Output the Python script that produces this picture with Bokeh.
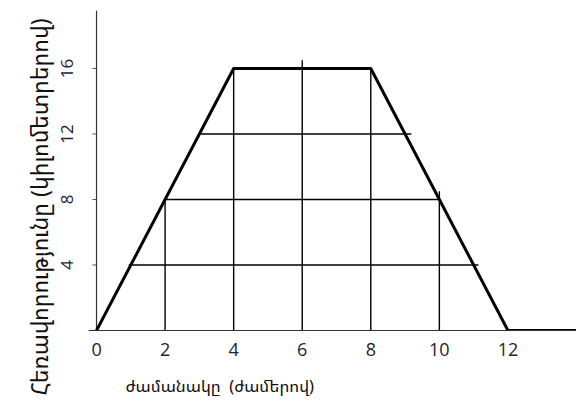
from bokeh.plotting import figure
from bokeh.models import Title, FixedTicker
from bokeh.embed import file_html
from bokeh.resources import INLINE

# --- data ---
time_h = [0, 4, 8, 12, 14]          # hours
dist_km = [0, 16, 16, 0, 0]         # kilometres

x_ticks = [0, 2, 4, 6, 8, 10, 12]
y_ticks = [4, 8, 12, 16]

# partial hand-drawn grid: horizontal lines (level, start, end)
h_level = [4, 8, 12]
h_start = [0.94, 2.0, 2.98]
h_end = [11.14, 10.0, 9.18]
# vertical lines (position, top)
v_pos = [2, 4, 6, 8, 10]
v_top = [8.05, 16, 16.5, 16, 8.5]

x_label = "ժամանակը \u00a0(ժամերով)"
y_label = "Հեռավորությունը (կիլոմետրերով)"

X0, X1 = -0.234, 14.0
Y0, Y1 = 0, 19.54

p = figure(width=576, height=410, x_range=(X0, X1), y_range=(Y0, Y1),
           output_backend="svg", toolbar_location=None,
           min_border_left=88, min_border_right=0, min_border_top=10,
           min_border_bottom=80)
p.outline_line_color = None
p.xgrid.grid_line_color = None
p.ygrid.grid_line_color = None

tick_font = "Open Sans"
tick_color = "#1e2236"
label_font = "Noto Sans Armenian, Noto Serif Armenian, Noto Sans, DejaVu Sans"

# x axis
p.xaxis.ticker = FixedTicker(ticks=x_ticks)
p.xaxis.axis_line_color = "#333333"
p.xaxis.axis_line_width = 1.2
p.xaxis.major_tick_out = 0
p.xaxis.major_tick_in = 0
p.xaxis.minor_tick_line_color = None
p.xaxis.major_label_standoff = 12
p.xaxis.major_label_text_font = tick_font
p.xaxis.major_label_text_font_size = "18px"
p.xaxis.major_label_text_color = tick_color

# y axis (labels only; the line sits at x = 0)
p.yaxis.ticker = FixedTicker(ticks=y_ticks)
p.yaxis.axis_line_color = None
p.yaxis.major_tick_line_color = None
p.yaxis.minor_tick_line_color = None
p.yaxis.major_label_orientation = "vertical"
p.yaxis.major_label_standoff = 9
p.yaxis.major_label_text_font = tick_font
p.yaxis.major_label_text_font_size = "17px"
p.yaxis.major_label_text_color = tick_color

# y axis line and its small ticks
p.segment(x0=[0], y0=[Y0], x1=[0], y1=[Y1], line_color="#333333", line_width=1.2)
p.segment(x0=[-0.12] * len(y_ticks), y0=y_ticks, x1=[0] * len(y_ticks), y1=y_ticks,
          line_color="#555555", line_width=1)

# grid segments
p.segment(x0=h_start, y0=h_level, x1=h_end, y1=h_level, line_color="black", line_width=1.4)
p.segment(x0=v_pos, y0=[0] * len(v_pos), x1=v_pos, y1=v_top, line_color="black", line_width=1.4)

# main line
p.line(time_h, dist_km, line_color="black", line_width=3, line_join="round")

# axis titles
p.add_layout(Title(text=x_label, align="left", offset=37, standoff=27,
                   text_font=label_font, text_font_size="16.5px",
                   text_font_style="normal", text_color="#111111"), "below")
p.add_layout(Title(text=y_label, align="left", offset=-65, standoff=7,
                   text_font=label_font, text_font_size="23px",
                   text_font_style="normal", text_color="#111111"), "left")

open("out.html", "w").write(file_html(p, INLINE))
